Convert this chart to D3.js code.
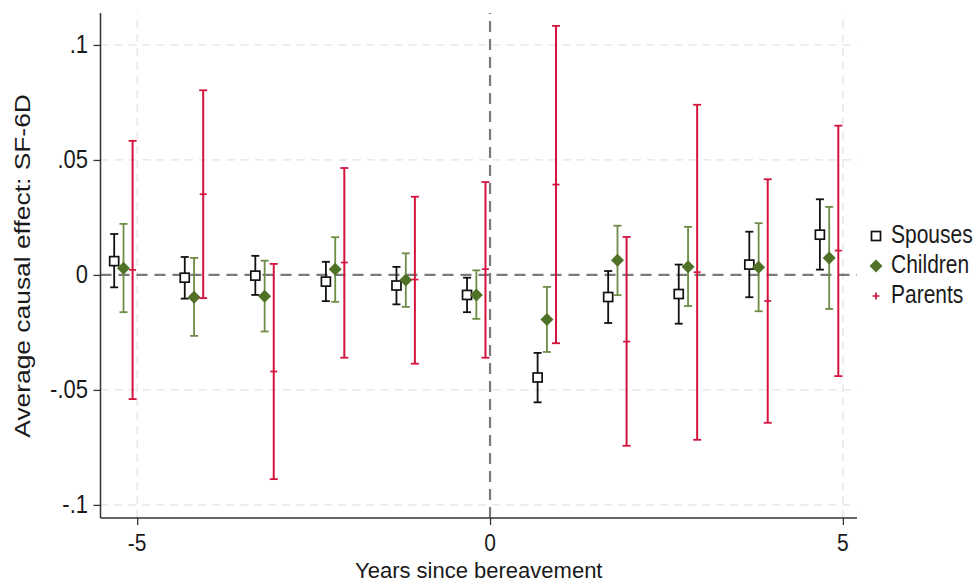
<!DOCTYPE html>
<html>
<head>
<meta charset="utf-8">
<script src="https://cdn.jsdelivr.net/npm/d3@7"></script>
<style>
  html, body { margin: 0; padding: 0; background: #fff; }
  svg { display: block; }
  text { font-family: "Liberation Sans", Arial, sans-serif; fill: #1a1a1a; }
</style>
</head>
<body>
<svg id="chart" width="978" height="584"></svg>
<script>
// ---- Data ----
const years = [-5, -4, -3, -2, -1, 0, 1, 2, 3, 4, 5];
const seriesNames = ["Spouses", "Children", "Parents"];
const spousesEst = [0.0060, -0.0012, -0.0003, -0.0029, -0.0046, -0.0087, -0.0446, -0.0096, -0.0083, 0.0045, 0.0175];
const spousesLo  = [-0.0054, -0.0103, -0.0087, -0.0114, -0.0128, -0.0162, -0.0554, -0.0209, -0.0212, -0.0097, 0.0023];
const spousesHi  = [0.0178, 0.0078, 0.0083, 0.0057, 0.0035, -0.0012, -0.0339, 0.0017, 0.0045, 0.0188, 0.0329];
const childrenEst = [0.0029, -0.0097, -0.0093, 0.0025, -0.0022, -0.0087, -0.0194, 0.0064, 0.0036, 0.0033, 0.0074];
const childrenLo  = [-0.0162, -0.0265, -0.0246, -0.0117, -0.0139, -0.0191, -0.0335, -0.0088, -0.0135, -0.0158, -0.0148];
const childrenHi  = [0.0222, 0.0074, 0.0062, 0.0164, 0.0094, 0.0020, -0.0052, 0.0214, 0.0209, 0.0225, 0.0296];
const parentsEst = [0.0022, 0.0351, -0.0420, 0.0054, -0.0020, 0.0025, 0.0393, -0.0290, 0.0012, -0.0113, 0.0106];
const parentsLo  = [-0.0540, -0.0101, -0.0888, -0.0360, -0.0386, -0.0360, -0.0297, -0.0743, -0.0717, -0.0643, -0.0440];
const parentsHi  = [0.0583, 0.0803, 0.0048, 0.0465, 0.0340, 0.0404, 0.1083, 0.0165, 0.0740, 0.0416, 0.0649];
const xTicks = [-5, 0, 5];
const xTickLabels = ["-5", "0", "5"];
const yTicks = [-0.1, -0.05, 0, 0.05, 0.1];
const yTickLabels = ["-.1", "-.05", "0", ".05", ".1"];
const xTitle = "Years since bereavement";
const yTitle = "Average causal effect: SF-6D";

// ---- Layout / style ----
const svg = d3.select("#chart");
const x = d3.scaleLinear().domain([-5.52, 5.2]).range([100.5, 857]);
const y = d3.scaleLinear().domain([-0.1057, 0.1139]).range([518, 13]);
const offsets = {Spouses: -0.326, Children: -0.194, Parents: -0.065};
const colors = {Spouses: "#111111", Children: "#4f7226", Parents: "#d2143c"};
const lineColors = {Spouses: "#111111", Children: "#6d8c45", Parents: "#d2143c"};
const stretch = 1.2;
const fs = 22;

const series = [
  {name: "Spouses", est: spousesEst, lo: spousesLo, hi: spousesHi},
  {name: "Children", est: childrenEst, lo: childrenLo, hi: childrenHi},
  {name: "Parents", est: parentsEst, lo: parentsLo, hi: parentsHi}
];

// gridlines
const grid = svg.append("g");
yTicks.filter(v => v !== 0).forEach(v => {
  grid.append("line").attr("x1", x.range()[0]).attr("x2", x.range()[1])
    .attr("y1", y(v)).attr("y2", y(v))
    .attr("stroke", "#e4e4e4").attr("stroke-width", 1.3).attr("stroke-dasharray", "8,6");
});
xTicks.filter(v => v !== 0).forEach(v => {
  grid.append("line").attr("x1", x(v)).attr("x2", x(v))
    .attr("y1", y.range()[0]).attr("y2", y.range()[1])
    .attr("stroke", "#e4e4e4").attr("stroke-width", 1.3).attr("stroke-dasharray", "8,6");
});

// reference lines
svg.append("line").attr("x1", x.range()[0]).attr("x2", x.range()[1])
  .attr("y1", y(0)).attr("y2", y(0))
  .attr("stroke", "#7a7a7a").attr("stroke-width", 2.2).attr("stroke-dasharray", "11,7");
svg.append("line").attr("x1", x(0)).attr("x2", x(0))
  .attr("y1", y.range()[0]).attr("y2", y.range()[1])
  .attr("stroke", "#7a7a7a").attr("stroke-width", 2.2).attr("stroke-dasharray", "11,7");

// axes
const xAxis = d3.axisBottom(x).tickValues(xTicks).tickFormat(() => "").tickSize(7).tickSizeOuter(0);
const yAxis = d3.axisLeft(y).tickValues(yTicks).tickFormat(() => "").tickSize(7).tickSizeOuter(0);
const gx = svg.append("g").attr("transform", `translate(0,${y.range()[0]})`).call(xAxis);
const gy = svg.append("g").attr("transform", `translate(${x.range()[0]},0)`).call(yAxis);
[gx, gy].forEach(g => {
  g.select(".domain").attr("stroke", "#333").attr("stroke-width", 1.5);
  g.selectAll(".tick line").attr("stroke", "#333").attr("stroke-width", 1.3);
});
gx.select(".domain").attr("d", `M${x.range()[0]},0H${x.range()[1]}`);
gy.select(".domain").attr("d", `M0,${y.range()[0]}V${y.range()[1]}`);

// tick labels (stretched vertically like reference)
xTicks.forEach((v, i) => {
  svg.append("text").attr("transform", `translate(${x(v)},${551}) scale(1,1.1)`)
    .attr("text-anchor", "middle").attr("font-size", 21).text(xTickLabels[i]);
});
yTicks.forEach((v, i) => {
  svg.append("text").attr("transform", `translate(${88},${y(v) + 8}) scale(1,${stretch})`)
    .attr("text-anchor", "end").attr("font-size", fs).text(yTickLabels[i]);
});

// axis titles
svg.append("text").attr("transform", `translate(${(x.range()[0] + x.range()[1]) / 2},${578})`)
  .attr("text-anchor", "middle").attr("font-size", fs).text(xTitle);
svg.append("text").attr("transform", `translate(${30},${y(0) - 9}) rotate(-90) scale(${stretch},1)`)
  .attr("text-anchor", "middle").attr("font-size", fs).text(yTitle);

// markers
function drawMarker(g, name, cx, cy, legend) {
  if (name === "Spouses") {
    g.append("rect").attr("x", cx - 4.5).attr("y", cy - 4.5).attr("width", 9).attr("height", 9)
      .attr("fill", "#fff").attr("stroke", colors.Spouses).attr("stroke-width", 1.7);
  } else if (name === "Children") {
    const r = 6.5;
    g.append("path").attr("d", `M${cx},${cy - r}L${cx + r},${cy}L${cx},${cy + r}L${cx - r},${cy}Z`)
      .attr("fill", colors.Children);
  } else {
    const r = 3.5;
    g.append("path").attr("d", `M${cx - r},${cy}H${cx + r}` + (legend ? `M${cx},${cy - r}V${cy + r}` : ""))
      .attr("stroke", colors.Parents).attr("stroke-width", 1.7);
  }
}

const marks = svg.append("g");
series.forEach(s => {
  const g = marks.append("g");
  years.forEach((yr, i) => {
    const cx = x(yr + offsets[s.name]);
    const c = lineColors[s.name];
    g.append("line").attr("x1", cx).attr("x2", cx).attr("y1", y(s.lo[i])).attr("y2", y(s.hi[i]))
      .attr("stroke", c).attr("stroke-width", s.name === "Parents" ? 2 : 1.8);
    [s.lo[i], s.hi[i]].forEach(v => {
      g.append("line").attr("x1", cx - 4).attr("x2", cx + 4).attr("y1", y(v)).attr("y2", y(v))
        .attr("stroke", c).attr("stroke-width", 1.8);
    });
    drawMarker(g, s.name, cx, y(s.est[i]), false);
  });
});

// legend
const legend = svg.append("g");
seriesNames.forEach((name, i) => {
  const ly = 236 + i * 30;
  drawMarker(legend, name, 876, ly, true);
  legend.append("text").attr("transform", `translate(${891},${ly + 7}) scale(1,${stretch})`)
    .attr("font-size", 21).text(name);
});
</script>
</body>
</html>
